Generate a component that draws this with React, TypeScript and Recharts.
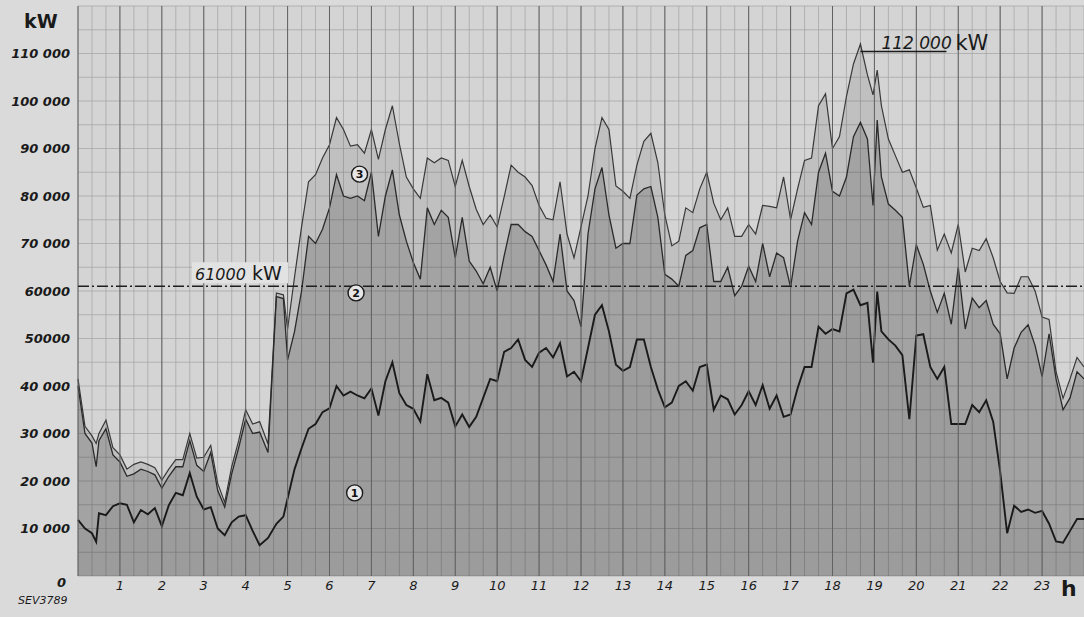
import React from 'react';
import {
  ComposedChart,
  Area,
  XAxis,
  YAxis,
  CartesianGrid,
  ReferenceLine,
  ReferenceDot,
} from 'recharts';

// time of day in minutes
const MINUTES = [
  0, 10, 20, 26, 30, 40, 50, 60, 70, 80, 90, 100, 110, 120, 130, 140, 150, 160, 170, 180,
  190, 200, 210, 220, 230, 240, 250, 260, 272, 284, 294, 300, 310, 320, 330, 340, 350, 360,
  370, 380, 390, 400, 410, 420, 430, 440, 450, 460, 470, 480, 490, 500, 510, 520, 530, 540,
  550, 560, 570, 580, 590, 600, 610, 620, 630, 640, 650, 660, 670, 680, 690, 700, 710, 720,
  730, 740, 750, 760, 770, 780, 790, 800, 810, 820, 830, 840, 850, 860, 870, 880, 890, 900,
  910, 920, 930, 940, 950, 960, 970, 980, 990, 1000, 1010, 1020, 1030, 1040, 1050, 1060,
  1070, 1080, 1090, 1100, 1110, 1120, 1130, 1138, 1144, 1150, 1160, 1170, 1180, 1190, 1200,
  1210, 1220, 1230, 1240, 1250, 1260, 1270, 1280, 1290, 1300, 1310, 1320, 1330, 1340, 1350,
  1360, 1370, 1380, 1390, 1400, 1410, 1420, 1430, 1440,
];

// curve 3 (top), kW
const CURVE_3 = [
  41500, 31500, 29500, 27900, 30000, 32800, 27000, 25500, 22500, 23500, 24000, 23500, 22800, 20200, 22500, 24500, 24500, 30000, 24800, 25000,
  27500, 19500, 15500, 23000, 28500, 35000, 32000, 32500, 27800, 59600, 59200, 52000, 63000, 73500, 83000, 84500, 88000, 90800,
  96500, 94000, 90500, 90800, 89000, 94000, 87700, 94000, 99000, 91000, 84000, 81500, 79500, 88000, 87000, 88000, 87500, 82000,
  87500, 82000, 77200, 74000, 76000, 73500, 79800, 86500, 85000, 84000, 82200, 78000, 75300, 75000, 83000, 72000, 67000, 73500,
  80000, 90000, 96500, 94000, 82100, 81000, 79500, 86500, 91500, 93200, 87000, 76000, 69500, 70500, 77500, 76500, 81500, 85000,
  78500, 75000, 77500, 71500, 71500, 74000, 72000, 78000, 77800, 77500, 84000, 75000, 81500, 87500, 88000, 99000,
  101500, 90000, 92500, 101000, 107800, 112000, 105500, 101300, 106500, 99000, 92000, 88500, 85000, 85500, 81700,
  77600, 78000, 68600, 72000, 68000, 74000, 64000, 69000, 68500, 71000, 67000, 62000, 59600, 59500, 63000,
  63000, 60000, 54500, 54000, 43000, 37400, 41500, 46000, 44000,
];

// curve 2 (middle), kW
const CURVE_2 = [
  40000, 30000, 28000, 23000, 28500, 31000, 25500, 24000, 21000, 21500, 22500, 22000, 21300, 18500, 21000, 23000, 23000, 28500, 23300, 22000,
  26000, 18000, 14500, 21500, 27000, 33000, 30000, 30300, 26000, 58800, 58400, 45500, 51500, 60000, 71500, 70000, 73000, 77500,
  84500, 80000, 79500, 80000, 79000, 85000, 71500, 80000, 85500, 76000, 70500, 66000, 62500, 77500, 74000, 77000, 75500, 67000,
  75500, 66300, 64200, 61500, 65000, 60000, 67400, 74000, 74000, 72500, 71500, 68500, 65500, 62000, 72000, 60000, 58000, 52500,
  72000, 81500, 86000, 76000, 69000, 70000, 70000, 80200, 81500, 82000, 75500, 63500, 62500, 61000, 67500, 68500, 73300, 74000,
  62000, 62000, 65000, 59000, 61000, 65200, 62000, 70000, 63000, 68000, 67000, 60800, 70500, 76500, 74000, 85000,
  89000, 81000, 80000, 84000, 92500, 95500, 92000, 78000, 96000, 84000, 78300, 77000, 75500, 61000, 69700,
  65600, 60000, 55500, 59500, 53000, 65000, 52000, 58500, 56500, 58000, 53000, 51000, 41500, 48000, 51300,
  52900, 48500, 42000, 51000, 41500, 35000, 37500, 43000, 41500,
];

// curve 1 (bottom), kW
const CURVE_1 = [
  11800, 10000, 9000, 7200, 13200, 12800, 14700, 15300, 15000, 11300, 13900, 13000, 14300, 10500, 14900, 17500, 17000, 21700, 16700, 14000,
  14500, 10000, 8600, 11300, 12500, 12800, 9500, 6500, 8000, 11000, 12500, 16300, 22500, 26900, 31000, 32000, 34500, 35300,
  40000, 38000, 38800, 38000, 37400, 39500, 33800, 41000, 45000, 38500, 36000, 35200, 32500, 42500, 37000, 37500, 36500, 31500,
  34000, 31400, 33500, 37500, 41500, 41000, 47200, 48000, 49800, 45500, 44000, 47000, 48000, 46000, 49000, 42000, 43000, 41000,
  48000, 55000, 57000, 51500, 44500, 43200, 44000, 49800, 49800, 44000, 39300, 35500, 36500, 40000, 41000, 39000, 44000, 44500,
  35000, 38000, 37200, 34000, 36000, 38900, 36000, 40200, 35200, 38000, 33500, 34000, 39500, 44000, 44000, 52500,
  51000, 52000, 51500, 59500, 60300, 57000, 57500, 44900, 59900, 51500, 49800, 48500, 46500, 33000, 50600,
  50900, 44000, 41500, 44000, 32000, 32000, 32000, 36000, 34500, 37000, 32500, 22000, 9000, 14800, 13500,
  14000, 13300, 13700, 11000, 7300, 7000, 9500, 12000, 12000,
];

const HOUR_TICKS = [60, 120, 180, 240, 300, 360, 420, 480, 540, 600, 660, 720, 780, 840, 900, 960, 1020, 1080, 1140, 1200, 1260, 1320, 1380];
const HOUR_LABELS = ['1', '2', '3', '4', '5', '6', '7', '8', '9', '10', '11', '12', '13', '14', '15', '16', '17', '18', '19', '20', '21', '22', '23'];

const Y_TICKS = [0, 10000, 20000, 30000, 40000, 50000, 60000, 70000, 80000, 90000, 100000, 110000];
const Y_LABELS = ['0', '10 000', '20 000', '30 000', '40 000', '50000', '60000', '70 000', '80 000', '90 000', '100 000', '110 000'];

const LIMIT_VALUE = 61000;
const LIMIT_LABEL = '61000';
const PEAK_LABEL = '112 000';

// circled curve numbers: [minute, kW, text]
const CURVE_MARKS: [number, number, string][] = [
  [396, 17500, '1'],
  [398, 59600, '2'],
  [403, 84600, '3'],
];

const rows = MINUTES.map((m, i) => ({ m, c1: CURVE_1[i], c2: CURVE_2[i], c3: CURVE_3[i] }));

const minorX = Array.from({ length: 73 }, (_, i) => i * 20);
const minorY = Array.from({ length: 25 }, (_, i) => i * 5000);

const HAND = '"DejaVu Sans", "Liberation Sans", sans-serif';

const XTick = (props: any) => {
  const { x, y, payload } = props;
  const i = HOUR_TICKS.indexOf(payload.value);
  if (i < 0) return <g />;
  return (
    <text x={x} y={y + 6} textAnchor="middle" fontFamily={HAND} fontStyle="italic" fontSize={13} fill="#1a1a1a">
      {HOUR_LABELS[i]}
    </text>
  );
};

const YTick = (props: any) => {
  const { x, y, payload } = props;
  const i = Y_TICKS.indexOf(payload.value);
  if (i < 0) return <g />;
  const isZero = payload.value === 0;
  return (
    <text
      x={isZero ? x - 4 : x}
      y={isZero ? y + 11 : y + 4.5}
      textAnchor="end"
      fontFamily={HAND}
      fontStyle="italic"
      fontWeight="bold"
      fontSize={13}
      fill="#1a1a1a"
    >
      {Y_LABELS[i]}
    </text>
  );
};

const LimitLabel = (props: any) => {
  const vb = props.viewBox || {};
  const x0 = (vb.x || 0) + 114;
  const y0 = vb.y || 0;
  return (
    <g>
      <rect x={x0} y={y0 - 24} width={96} height={21} fill="#e2e2e2" />
      <text x={x0 + 3} y={y0 - 6} fontFamily={HAND} fontStyle="italic" fontSize={16} fill="#1a1a1a">
        {LIMIT_LABEL}
      </text>
      <text x={x0 + 60} y={y0 - 6} fontFamily={HAND} fontSize={19} fill="#1a1a1a">
        kW
      </text>
    </g>
  );
};

const PeakLabel = (props: any) => {
  const vb = props.viewBox || {};
  const cx = (vb.x || 0) + (vb.width || 0) / 2;
  const cy = (vb.y || 0) + (vb.height || 0) / 2;
  return (
    <g>
      <line x1={cx} y1={cy} x2={cx + 86} y2={cy} stroke="#1a1a1a" strokeWidth={1.5} />
      <text x={cx + 21} y={cy - 3} fontFamily={HAND} fontStyle="italic" fontSize={17} fill="#1a1a1a">
        {PEAK_LABEL}
      </text>
      <text x={cx + 95} y={cy - 2} fontFamily={HAND} fontSize={21} fill="#1a1a1a">
        kW
      </text>
    </g>
  );
};

export default function App() {
  return (
    <div
      style={{
        position: 'absolute',
        left: 0,
        top: 0,
        width: 1084,
        height: 617,
        background: '#dadada',
        overflow: 'hidden',
      }}
    >
      <ComposedChart width={1084} height={617} data={rows} margin={{ top: 6, right: 0, left: 8, bottom: 0 }}>
        <CartesianGrid
          stroke="#a2a2a2"
          strokeWidth={0.7}
          fill="#d4d4d4"
          verticalValues={minorX}
          horizontalValues={minorY}
        />
        <XAxis
          dataKey="m"
          type="number"
          domain={[0, 1440]}
          ticks={minorX}
          interval={0}
          height={41}
          axisLine={false}
          tickLine={false}
          tick={<XTick />}
        />
        <YAxis
          type="number"
          domain={[0, 120000]}
          ticks={minorY}
          interval={0}
          width={70}
          axisLine={false}
          tickLine={false}
          tick={<YTick />}
        />
        <Area
          type="linear"
          dataKey="c3"
          stroke="#383838"
          strokeWidth={1.2}
          fill="#000"
          fillOpacity={0.09}
          dot={false}
          activeDot={false}
          isAnimationActive={false}
        />
        <Area
          type="linear"
          dataKey="c2"
          stroke="#2a2a2a"
          strokeWidth={1.3}
          fill="#000"
          fillOpacity={0.15}
          dot={false}
          activeDot={false}
          isAnimationActive={false}
        />
        <Area
          type="linear"
          dataKey="c1"
          stroke="#1a1a1a"
          strokeWidth={1.9}
          fill="#000"
          fillOpacity={0.04}
          dot={false}
          activeDot={false}
          isAnimationActive={false}
        />
        {[0, ...HOUR_TICKS].map((h) => (
          <ReferenceLine key={'h' + h} x={h} stroke="#626262" strokeWidth={1} />
        ))}
        <ReferenceLine
          y={LIMIT_VALUE}
          stroke="#1e1e1e"
          strokeWidth={1.5}
          strokeDasharray="11 3 2 3"
          label={<LimitLabel />}
        />
        <ReferenceDot x={1120} y={110400} r={0} fill="none" stroke="none" label={<PeakLabel />} />
        {CURVE_MARKS.map(([m, v, t]) => (
          <ReferenceDot
            key={'mark' + t}
            x={m}
            y={v}
            r={8}
            fill="#e6e6e6"
            stroke="#1a1a1a"
            strokeWidth={1.4}
            label={{ value: t, position: 'center', fill: '#111', fontSize: 11, fontWeight: 'bold', fontFamily: HAND }}
          />
        ))}
      </ComposedChart>
      <div
        style={{
          position: 'absolute',
          left: 24,
          top: 10,
          fontFamily: HAND,
          fontWeight: 'bold',
          fontSize: 19,
          color: '#1a1a1a',
        }}
      >
        kW
      </div>
      <div
        style={{
          position: 'absolute',
          left: 18,
          top: 594,
          fontFamily: HAND,
          fontStyle: 'italic',
          fontSize: 11,
          color: '#1a1a1a',
        }}
      >
        SEV3789
      </div>
      <div
        style={{
          position: 'absolute',
          left: 1061,
          top: 576,
          fontFamily: HAND,
          fontWeight: 'bold',
          fontSize: 22,
          color: '#1a1a1a',
        }}
      >
        h
      </div>
    </div>
  );
}
